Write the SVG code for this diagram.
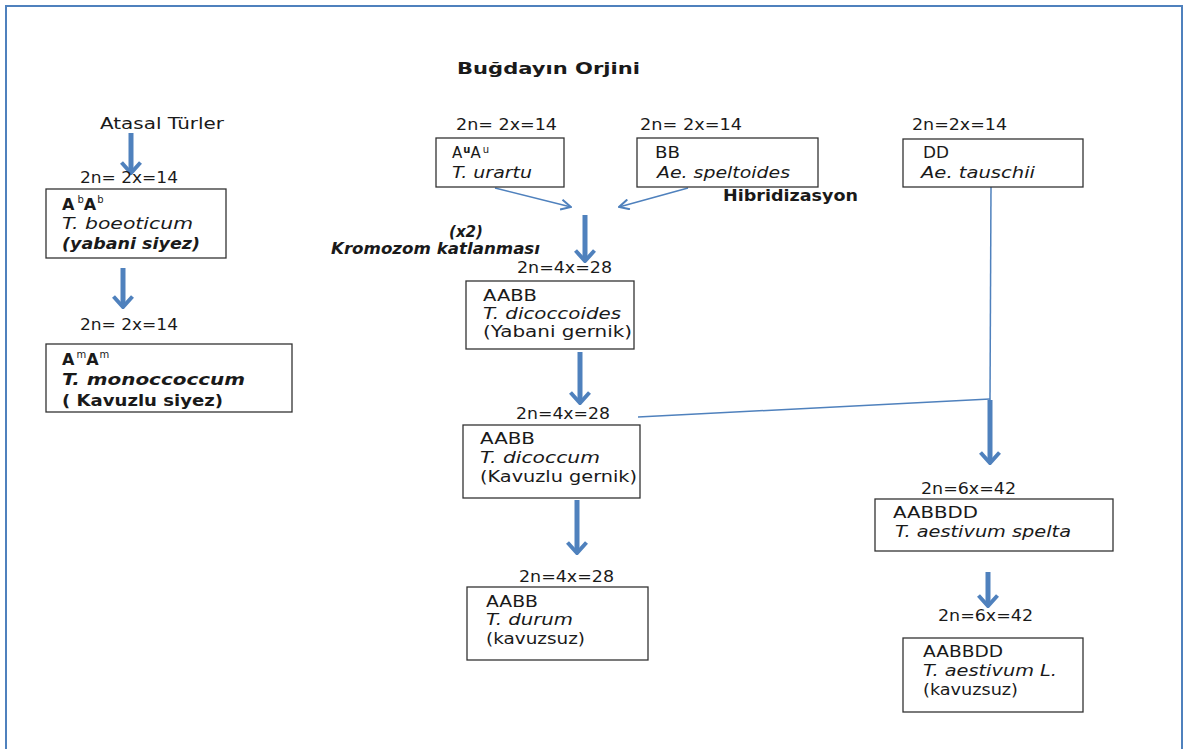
<svg xmlns="http://www.w3.org/2000/svg" width="1187" height="749" viewBox="0 0 1187 749">
<defs>
<style>
text{font-family:"DejaVu Sans","Verdana",sans-serif;font-size:14px;fill:#1a1a1a}
.n{font-size:15px}
.b{font-weight:bold}
.i{font-style:italic}
.t{font-size:16px;font-weight:bold}
.box{fill:#fff;stroke:#333;stroke-width:1.3}
.thin{stroke:#4f81bd;stroke-width:1.5;fill:none}
.thick{stroke:#4f81bd;stroke-width:5;fill:none}
.sup{font-size:10px;font-weight:normal}
</style>
<marker id="hthin" viewBox="0 0 12 12" refX="11" refY="6" markerWidth="12" markerHeight="12" markerUnits="userSpaceOnUse" orient="auto">
<path d="M1,1 L11,6 L1,11" fill="none" stroke="#4f81bd" stroke-width="2"/>
</marker>
<marker id="hthick" viewBox="0 0 14 22" refX="11" refY="11" markerWidth="14" markerHeight="22" markerUnits="userSpaceOnUse" orient="auto">
<path d="M1.5,1.5 L12,11 L1.5,20.5" fill="none" stroke="#4f81bd" stroke-width="4"/>
</marker>
</defs>
<rect x="0" y="0" width="1187" height="749" fill="#fff"/>
<rect x="6" y="6" width="1176" height="760" fill="none" stroke="#4f81bd" stroke-width="2"/>
<text x="457" y="74" class="t" textLength="183" lengthAdjust="spacingAndGlyphs">Buğdayın Orjini</text>

<g id="connectors">
<line x1="131" y1="133" x2="131" y2="172" class="thick" marker-end="url(#hthick)"/>
<line x1="123" y1="268" x2="123" y2="306" class="thick" marker-end="url(#hthick)"/>
<line x1="495" y1="188" x2="571" y2="207" class="thin" marker-end="url(#hthin)"/>
<line x1="688" y1="188" x2="619" y2="207" class="thin" marker-end="url(#hthin)"/>
<line x1="585" y1="215" x2="585" y2="260" class="thick" marker-end="url(#hthick)"/>
<line x1="580" y1="352" x2="580" y2="402" class="thick" marker-end="url(#hthick)"/>
<line x1="638" y1="417" x2="990" y2="399" class="thin"/>
<line x1="991" y1="187" x2="990" y2="400" class="thin"/>
<line x1="990" y1="400" x2="990" y2="462" class="thick" marker-end="url(#hthick)"/>
<line x1="577" y1="500" x2="577" y2="552" class="thick" marker-end="url(#hthick)"/>
<line x1="988" y1="572" x2="988" y2="605" class="thick" marker-end="url(#hthick)"/>
</g>

<g id="atasal">
<text x="100" y="129" class="n" textLength="124" lengthAdjust="spacingAndGlyphs">Atasal Türler</text>
</g>

<g id="boeoticum">
<text x="80" y="183" class="n" textLength="98" lengthAdjust="spacingAndGlyphs">2n= 2x=14</text>
<rect x="46" y="189" width="180" height="69" class="box"/>
<text x="62" y="210" class="b" style="font-size:16px">A<tspan class="sup" dy="-7" dx="3">b</tspan><tspan dy="7">A</tspan><tspan class="sup" dy="-7" dx="1">b</tspan></text>
<text x="62" y="229" class="i n" textLength="131" lengthAdjust="spacingAndGlyphs">T. boeoticum</text>
<text x="62" y="249" class="b i n" textLength="138" lengthAdjust="spacingAndGlyphs">(yabani siyez)</text>
</g>

<g id="monococcum">
<text x="80" y="330" class="n" textLength="98" lengthAdjust="spacingAndGlyphs">2n= 2x=14</text>
<rect x="46" y="344" width="246" height="68" class="box"/>
<text x="62" y="365" class="b" style="font-size:16px">A<tspan class="sup" dy="-7" dx="2">m</tspan><tspan dy="7">A</tspan><tspan class="sup" dy="-7" dx="1">m</tspan></text>
<text x="62" y="385" class="b i n" textLength="183" lengthAdjust="spacingAndGlyphs">T. monoccoccum</text>
<text x="62" y="406" class="b n" textLength="161" lengthAdjust="spacingAndGlyphs">( Kavuzlu siyez)</text>
</g>

<g id="urartu">
<text x="456" y="130" class="n" textLength="101" lengthAdjust="spacingAndGlyphs">2n= 2x=14</text>
<rect x="436" y="138" width="128" height="49" class="box"/>
<text x="452" y="158" class="n">A<tspan class="sup b" style="font-weight:bold" dy="-5" dx="1">u</tspan><tspan dy="5">A</tspan><tspan class="sup" dy="-5" dx="2">u</tspan></text>
<text x="452" y="178" class="i n" textLength="80" lengthAdjust="spacingAndGlyphs">T. urartu</text>
</g>

<g id="speltoides">
<text x="640" y="130" class="n" textLength="102" lengthAdjust="spacingAndGlyphs">2n= 2x=14</text>
<rect x="637" y="138" width="181" height="49" class="box"/>
<text x="655" y="158" class="n" textLength="25" lengthAdjust="spacingAndGlyphs">BB</text>
<text x="657" y="178" class="i n" textLength="133" lengthAdjust="spacingAndGlyphs">Ae. speltoides</text>
</g>

<g id="labels">
<text x="723" y="201" class="b n" textLength="135" lengthAdjust="spacingAndGlyphs">Hibridizasyon</text>
<text x="449" y="237" class="b i n" textLength="34" lengthAdjust="spacingAndGlyphs">(x2)</text>
<text x="331" y="254" class="b i n" textLength="209" lengthAdjust="spacingAndGlyphs">Kromozom katlanması</text>
</g>

<g id="tauschii">
<text x="912" y="130" class="n" textLength="95" lengthAdjust="spacingAndGlyphs">2n=2x=14</text>
<rect x="903" y="139" width="180" height="48" class="box"/>
<text x="923" y="158" class="n" textLength="26" lengthAdjust="spacingAndGlyphs">DD</text>
<text x="921" y="178" class="i n" textLength="114" lengthAdjust="spacingAndGlyphs">Ae. tauschii</text>
</g>

<g id="dicoccoides">
<text x="517" y="273" class="n" textLength="95" lengthAdjust="spacingAndGlyphs">2n=4x=28</text>
<rect x="466" y="281" width="168" height="68" class="box"/>
<text x="483" y="301" class="n" textLength="54" lengthAdjust="spacingAndGlyphs">AABB</text>
<text x="483" y="319" class="i n" textLength="138" lengthAdjust="spacingAndGlyphs">T. dicoccoides</text>
<text x="483" y="337" class="n" textLength="149" lengthAdjust="spacingAndGlyphs">(Yabani gernik)</text>
</g>

<g id="dicoccum">
<text x="516" y="419" class="n" textLength="94" lengthAdjust="spacingAndGlyphs">2n=4x=28</text>
<rect x="463" y="425" width="177" height="73" class="box"/>
<text x="480" y="444" class="n" textLength="55" lengthAdjust="spacingAndGlyphs">AABB</text>
<text x="480" y="463" class="i n" textLength="120" lengthAdjust="spacingAndGlyphs">T. dicoccum</text>
<text x="480" y="482" class="n" textLength="157" lengthAdjust="spacingAndGlyphs">(Kavuzlu gernik)</text>
</g>

<g id="durum">
<text x="519" y="582" class="n" textLength="95" lengthAdjust="spacingAndGlyphs">2n=4x=28</text>
<rect x="467" y="587" width="181" height="73" class="box"/>
<text x="486" y="607" class="n" textLength="52" lengthAdjust="spacingAndGlyphs">AABB</text>
<text x="486" y="625" class="i n" textLength="87" lengthAdjust="spacingAndGlyphs">T. durum</text>
<text x="486" y="644" class="n" textLength="99" lengthAdjust="spacingAndGlyphs">(kavuzsuz)</text>
</g>

<g id="spelta">
<text x="921" y="494" class="n" textLength="95" lengthAdjust="spacingAndGlyphs">2n=6x=42</text>
<rect x="875" y="499" width="238" height="52" class="box"/>
<text x="893" y="518" class="n" textLength="85" lengthAdjust="spacingAndGlyphs">AABBDD</text>
<text x="895" y="537" class="i n" textLength="176" lengthAdjust="spacingAndGlyphs">T. aestivum spelta</text>
</g>

<g id="aestivum">
<text x="938" y="621" class="n" textLength="95" lengthAdjust="spacingAndGlyphs">2n=6x=42</text>
<rect x="903" y="638" width="180" height="74" class="box"/>
<text x="923" y="657" class="n" textLength="80" lengthAdjust="spacingAndGlyphs">AABBDD</text>
<text x="923" y="676" class="i n" textLength="134" lengthAdjust="spacingAndGlyphs">T. aestivum L.</text>
<text x="923" y="695" class="n" textLength="95" lengthAdjust="spacingAndGlyphs">(kavuzsuz)</text>
</g>
</svg>
